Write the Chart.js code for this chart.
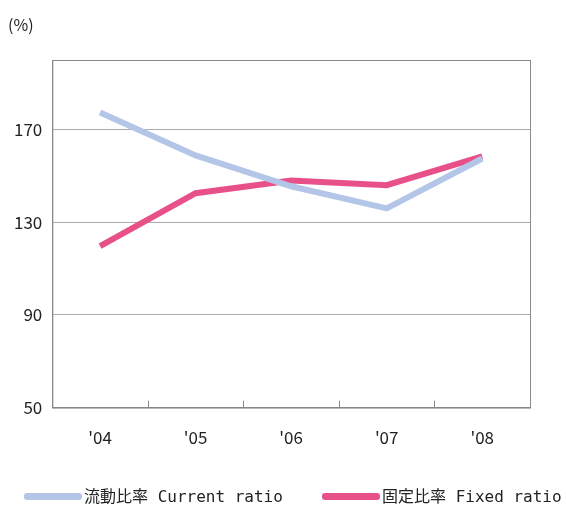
<!DOCTYPE html>
<html>
<head>
<meta charset="utf-8">
<script src="https://cdn.jsdelivr.net/npm/chart.js@4"></script>
<style>
    body { margin: 0; background: #fff; }
    #wrap { position: relative; width: 566px; height: 506px; }
    #unit { position: absolute; left: 8px; top: 12px; font: 16px "Noto Sans CJK JP", sans-serif; color: #222; }
    .leg { position: absolute; top: 486px; font: 16px "DejaVu Sans Mono", "Noto Sans CJK JP", monospace; color: #222; white-space: nowrap; line-height: 22px; }
    .leg i { display: inline-block; width: 58px; height: 7px; border-radius: 3px; vertical-align: middle; margin-right: 2px; position: relative; top: -1px; }
</style>
</head>
<body>
<div id="wrap">
    <div id="unit">(%)</div>
    <canvas id="chart" width="566" height="506"></canvas>
    <div class="leg" style="left:24px"><i style="background:#b4c6e7"></i>流動比率 Current ratio</div>
    <div class="leg" style="left:322px"><i style="background:#e8508a"></i>固定比率 Fixed ratio</div>
</div>
<script>
const years = ["'04", "'05", "'06", "'07", "'08"];
const currentRatio = [177.3, 158.8, 145.5, 136, 157.5];
const fixedRatio = [119.7, 142.5, 148, 146, 158.4];
const yTicks = [50, 90, 130, 170];

// short tick marks between categories, pointing up from the x axis
const innerTicks = {
    id: 'innerTicks',
    afterDraw(chart) {
        const x = chart.scales.x;
        const ctx = chart.ctx;
        ctx.save();
        ctx.strokeStyle = '#888';
        ctx.lineWidth = 1;
        for (let i = 0; i < years.length - 1; i++) {
            let px = Math.round((x.getPixelForTick(i) + x.getPixelForTick(i + 1)) / 2) + 0.5;
            ctx.beginPath();
            ctx.moveTo(px, chart.chartArea.bottom);
            ctx.lineTo(px, chart.chartArea.bottom - 7);
            ctx.stroke();
        }
        ctx.restore();
    }
};

new Chart(document.getElementById('chart'), {
    type: 'line',
    data: {
        labels: years,
        datasets: [{
            label: '流動比率 Current ratio',
            data: currentRatio,
            borderColor: '#b4c6e7',
            borderWidth: 6,
            pointRadius: 0,
            tension: 0
        }, {
            label: '固定比率 Fixed ratio',
            data: fixedRatio,
            borderColor: '#e8508a',
            borderWidth: 6,
            pointRadius: 0,
            tension: 0
        }]
    },
    options: {
        responsive: false,
        animation: false,
        layout: { padding: { top: 60, right: 36, left: 4, bottom: 38 } },
        plugins: {
            tooltip: { enabled: false },
            legend: { display: false }
        },
        scales: {
            x: {
                offset: true,
                grid: { display: false, drawTicks: false },
                border: { color: '#888' },
                ticks: { color: '#222', padding: 20, font: { family: '"Noto Sans CJK JP", sans-serif', size: 17 } }
            },
            y: {
                min: 50,
                max: 200,
                afterBuildTicks(scale) { scale.ticks = yTicks.map(v => ({ value: v })); },
                grid: { color: '#aaa', drawTicks: false },
                border: { color: '#888' },
                ticks: { color: '#222', padding: 10, font: { family: '"Noto Sans CJK JP", sans-serif', size: 17 } }
            }
        }
    },
    plugins: [innerTicks, {
        id: 'frame',
        afterDraw(chart) {
            const a = chart.chartArea, ctx = chart.ctx;
            ctx.save();
            ctx.strokeStyle = '#888';
            ctx.lineWidth = 1;
            ctx.strokeRect(a.left + 0.5, a.top + 0.5, a.right - a.left, a.bottom - a.top);
            ctx.restore();
        }
    }]
});
</script>
</body>
</html>
